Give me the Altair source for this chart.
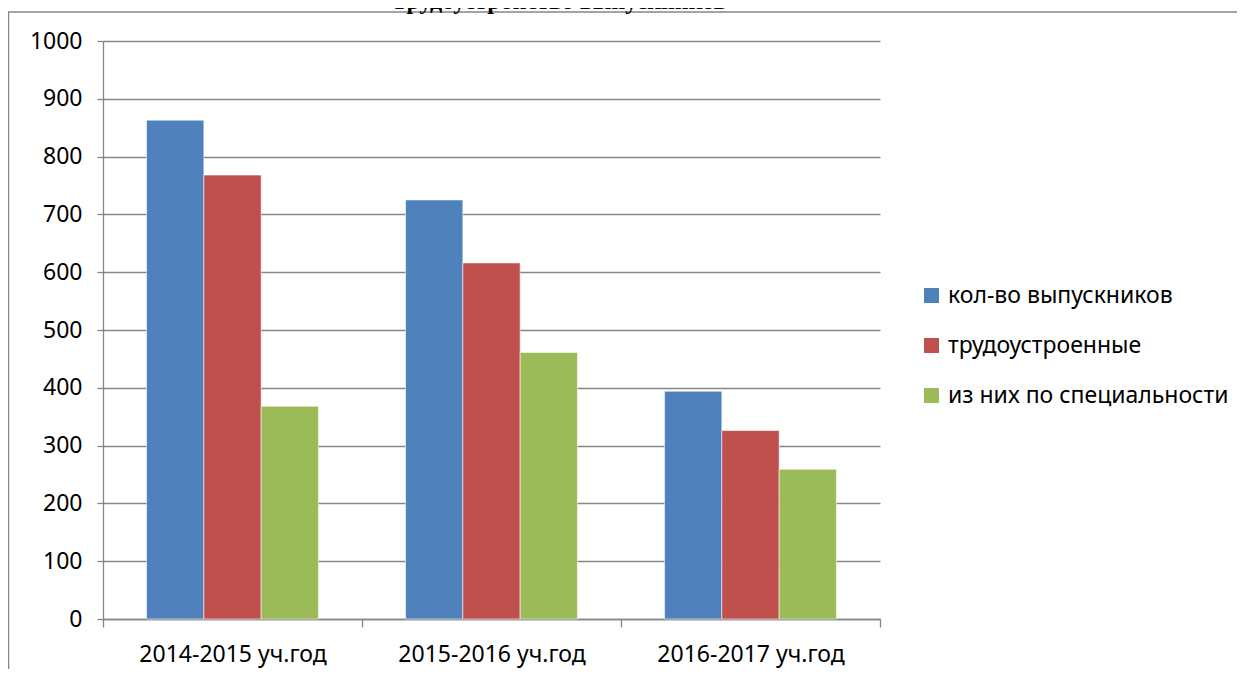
import altair as alt
import pandas as pd

TITLE = "Трудоустройство выпускников"
YEARS = ["2014-2015 уч.год", "2015-2016 уч.год", "2016-2017 уч.год"]
SERIES = ["кол-во выпускников", "трудоустроенные", "из них по специальности"]
GRADUATES = [863, 725, 394]
EMPLOYED = [768, 616, 326]
BY_SPECIALTY = [368, 461, 259]
COLORS = ["#4F81BD", "#C0504D", "#9BBB59"]
Y_TICKS = [0, 100, 200, 300, 400, 500, 600, 700, 800, 900, 1000]

rows = []
for name, vals in zip(SERIES, [GRADUATES, EMPLOYED, BY_SPECIALTY]):
    for year, v in zip(YEARS, vals):
        rows.append({"year": year, "series": name, "value": v})
df = pd.DataFrame(rows)

FONT = "Noto Sans"
GRAY = "#868686"

bars = alt.Chart(df).mark_bar(stroke="white", strokeOpacity=0.55, strokeWidth=1).encode(
    x=alt.X("year:N", sort=YEARS,
            scale=alt.Scale(paddingInner=0, paddingOuter=0),
            axis=alt.Axis(title=None, labelAngle=0, tickBand="extent", tickSize=8,
                          tickColor=GRAY, domainColor=GRAY, domainWidth=1.3, tickWidth=1.3,
                          labelFont=FONT, labelFontSize=23, labelColor="black",
                          labelPadding=16, labelLimit=0, grid=False)),
    xOffset=alt.XOffset("series:N", sort=SERIES,
                        scale=alt.Scale(paddingInner=0, paddingOuter=0.76)),
    y=alt.Y("value:Q", scale=alt.Scale(domain=[0, 1000], nice=False),
            axis=alt.Axis(title=None, values=Y_TICKS, format="d", tickSize=6,
                          tickColor=GRAY, tickWidth=1.3, domainColor=GRAY, domainWidth=1.3,
                          gridColor=GRAY, gridWidth=1.3, grid=True,
                          labelFont=FONT, labelFontSize=23, labelColor="black",
                          labelPadding=15)),
    color=alt.Color("series:N", sort=SERIES,
                    scale=alt.Scale(domain=SERIES, range=COLORS),
                    legend=alt.Legend(title=None, orient="none", legendX=817, legendY=243,
                                      symbolType="square", symbolSize=225,
                                      symbolStrokeWidth=0, labelFont=FONT,
                                      labelFontSize=23, labelColor="black", labelLimit=0,
                                      rowPadding=26, labelOffset=5, padding=0)),
)

one = pd.DataFrame({"t": [TITLE]})

title = alt.Chart(one).mark_text(
    font="Liberation Serif", fontWeight="bold", fontSize=24, align="center",
    baseline="alphabetic", color="black"
).encode(text="t:N", x=alt.value(456), y=alt.value(-32))

frame_top = alt.Chart(one).mark_rule(color=GRAY, strokeWidth=1.5).encode(
    x=alt.value(-95), x2=alt.value(1142), y=alt.value(-29))
frame_left = alt.Chart(one).mark_rule(color=GRAY, strokeWidth=1.5).encode(
    x=alt.value(-94.5), y=alt.value(-29), y2=alt.value(636))

chart = alt.layer(frame_top, frame_left, title, bars).properties(
    width=777, height=578,
    padding={"left": 95, "top": 33, "right": 357, "bottom": 50},
    autosize=alt.AutoSizeParams(type="none"),
).configure_view(strokeWidth=0)

chart.save("out.html", embed_options={"renderer": "svg", "actions": False})
